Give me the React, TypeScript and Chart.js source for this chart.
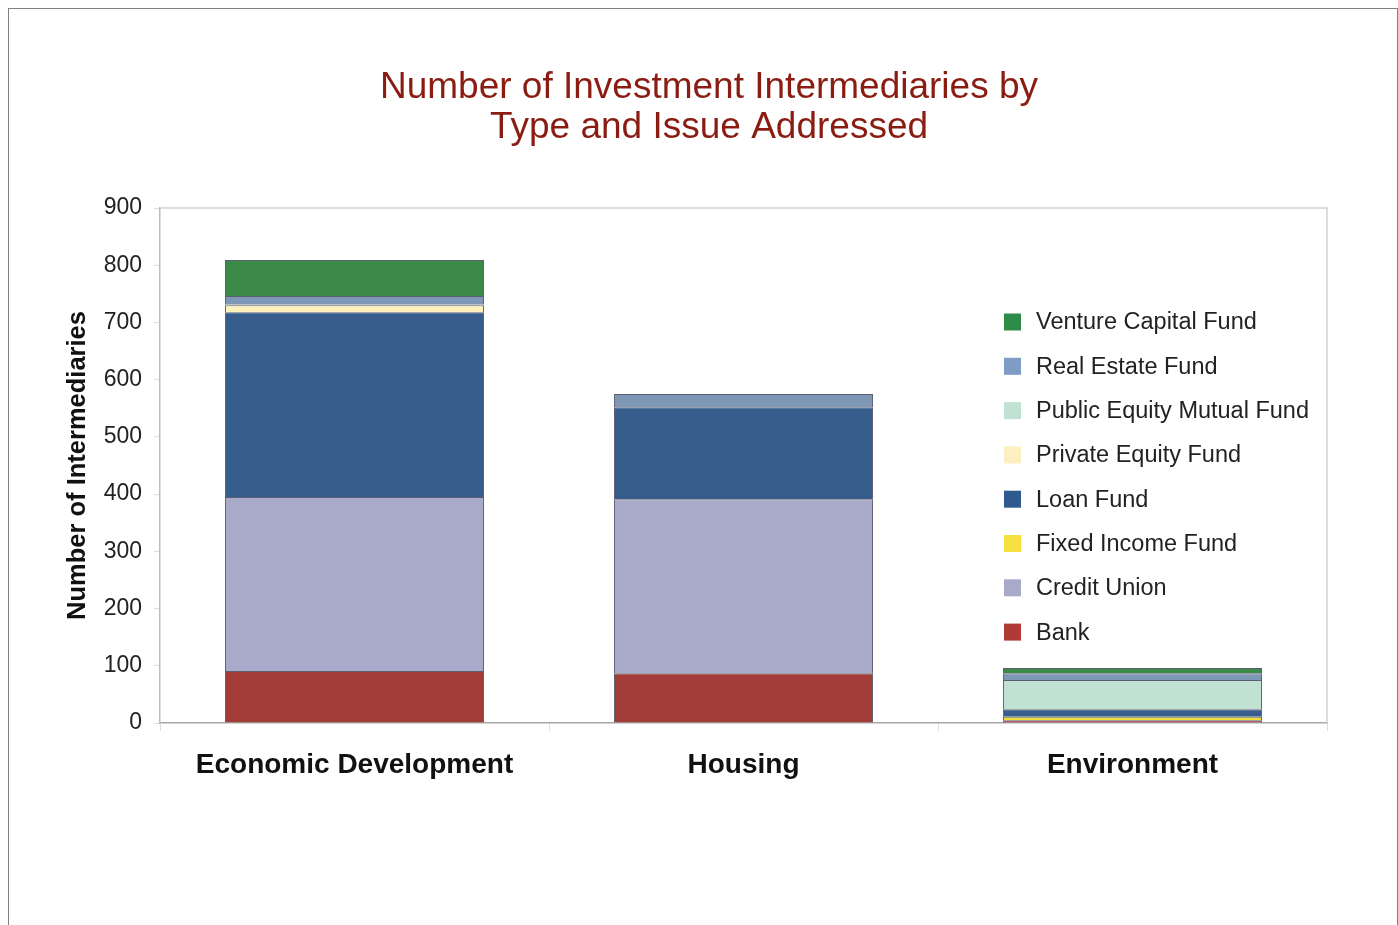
import React, { useEffect, useRef } from "react";
import { Chart, registerables } from "chart.js";

Chart.register(...registerables);

const titleLines = ["Number of Investment Intermediaries by", "Type and Issue Addressed"];
const categories = ["Economic Development", "Housing", "Environment"];
const yTicks = [0, 100, 200, 300, 400, 500, 600, 700, 800, 900];
const yAxisTitle = "Number of Intermediaries";

const bank = [91, 87, 5];
const creditUnion = [304, 304, 0];
const fixedIncomeFund = [0, 0, 6];
const loanFund = [323, 161, 13];
const privateEquityFund = [12, 0, 0];
const publicEquityMutualFund = [2, 0, 51];
const realEstateFund = [14, 23, 12];
const ventureCapitalFund = [63, 0, 9];

const seriesNames = [
  "Bank",
  "Credit Union",
  "Fixed Income Fund",
  "Loan Fund",
  "Private Equity Fund",
  "Public Equity Mutual Fund",
  "Real Estate Fund",
  "Venture Capital Fund",
];
const seriesValues = [
  bank,
  creditUnion,
  fixedIncomeFund,
  loanFund,
  privateEquityFund,
  publicEquityMutualFund,
  realEstateFund,
  ventureCapitalFund,
];
const seriesColors = [
  "#a23c38",
  "#a9a9c9",
  "#f2de3a",
  "#365d8c",
  "#fdf1bd",
  "#c1e1d2",
  "#7d98b6",
  "#3b8a49",
];
const legendColors = [
  "#b03a36",
  "#a9a9c9",
  "#f5e240",
  "#2f5a90",
  "#fdf0c0",
  "#c1e1d2",
  "#7f9cc4",
  "#2f8c48",
];

const FONT = '"Liberation Sans", Arial, Helvetica, sans-serif';

const framePlugin = {
  id: "framePlugin",
  afterDraw(chart: any) {
    const { ctx, chartArea } = chart;
    ctx.save();
    // plot frame top & right
    ctx.strokeStyle = "#d2d2d2";
    ctx.lineWidth = 1.5;
    ctx.beginPath();
    ctx.moveTo(chartArea.left, chartArea.top);
    ctx.lineTo(chartArea.right, chartArea.top);
    ctx.lineTo(chartArea.right, chartArea.bottom);
    ctx.stroke();

    // title
    ctx.fillStyle = "#8a1c12";
    ctx.font = `37px ${FONT}`;
    ctx.textAlign = "center";
    ctx.textBaseline = "middle";
    const cx = 700;
    titleLines.forEach((t, i) => ctx.fillText(t, cx, 79 + i * 40));

    // legend
    const lx = chartArea.left + 844;
    const ly = chartArea.top + 114;
    const ds = chart.data.datasets;
    ctx.font = `23.5px ${FONT}`;
    ctx.textAlign = "left";
    ctx.textBaseline = "middle";
    for (let k = 0; k < ds.length; k++) {
      const idx = ds.length - 1 - k;
      const y = ly + k * 44.3;
      ctx.fillStyle = legendColors[idx];
      ctx.fillRect(lx, y - 8.5, 17, 17);
      ctx.fillStyle = "#222222";
      ctx.fillText(ds[idx].label, lx + 32, y + 1);
    }
    ctx.restore();
  },
};

export default function App() {
  const ref = useRef<HTMLCanvasElement>(null);
  useEffect(() => {
    if (!ref.current) return;
    const chart = new Chart(ref.current, {
      type: "bar",
      data: {
        labels: categories,
        datasets: seriesNames.map((name, i) => ({
          label: name,
          data: seriesValues[i],
          backgroundColor: seriesColors[i],
          borderColor: "rgba(35,40,60,0.75)",
          borderWidth: 1,
          categoryPercentage: 1,
          barPercentage: 0.666,
        })),
      },
      options: {
        responsive: false,
        animation: false,
        devicePixelRatio: 1,
        layout: { padding: { left: 0, right: 70, top: 199, bottom: 102 } },
        plugins: {
          legend: { display: false },
          title: { display: false },
          tooltip: { enabled: false },
        },
        scales: {
          x: {
            stacked: true,
            afterFit: (s: any) => {
              s.height = 100;
            },
            grid: {
              drawOnChartArea: false,
              drawTicks: true,
              tickLength: 8,
              color: "#dddddd",
            },
            border: { color: "#a8a8a8", width: 1.5 },
            ticks: {
              color: "#111111",
              padding: 17,
              font: { family: FONT, size: 28, weight: "bold" },
            },
          },
          y: {
            stacked: true,
            min: 0,
            max: 900,
            afterFit: (s: any) => {
              s.width = 151;
            },
            afterBuildTicks: (s: any) => {
              s.ticks = yTicks.map((v) => ({ value: v }));
            },
            grid: {
              drawOnChartArea: false,
              drawTicks: true,
              tickLength: 6,
              color: "#dddddd",
            },
            border: { color: "#bdbdbd", width: 1.5 },
            ticks: {
              color: "#222222",
              padding: 12,
              font: { family: FONT, size: 23 },
            },
            title: {
              display: true,
              text: yAxisTitle,
              color: "#111111",
              padding: { top: 54, bottom: 0 },
              font: { family: FONT, size: 25.5, weight: "bold" },
            },
          },
        },
      },
      plugins: [framePlugin],
    });
    return () => chart.destroy();
  }, []);

  return (
    <div
      style={{
        position: "fixed",
        left: 8,
        top: 8,
        width: 1390,
        height: 917,
        boxSizing: "border-box",
        borderTop: "1px solid #808080",
        borderLeft: "1px solid #808080",
        borderRight: "1px solid #808080",
        background: "#ffffff",
        overflow: "hidden",
      }}
    >
      <canvas ref={ref} width={1388} height={916} style={{ display: "block", width: 1388, height: 916 }} />
    </div>
  );
}
